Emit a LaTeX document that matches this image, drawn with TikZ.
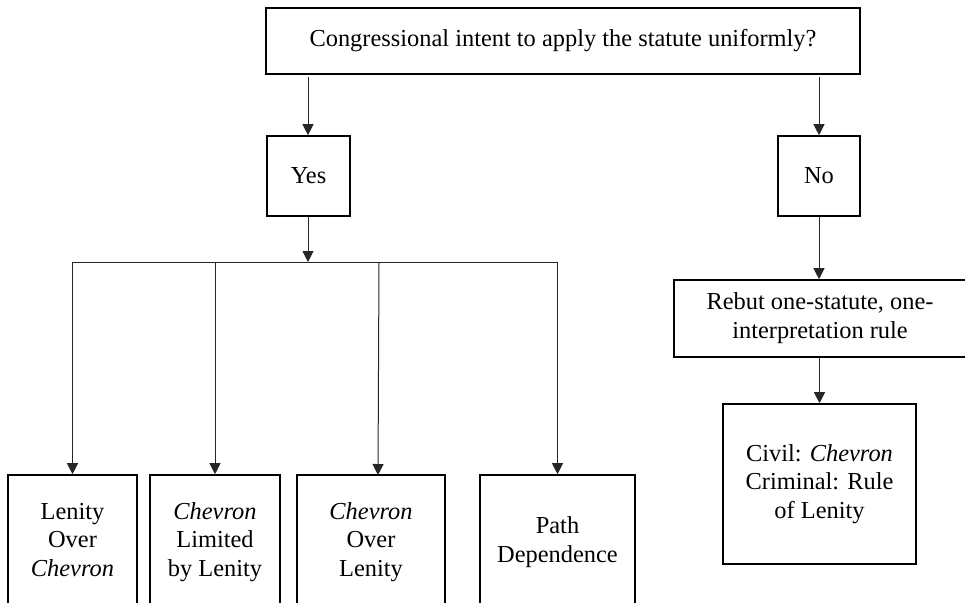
\documentclass[tikz,border=0pt]{standalone}
\usepackage{fontspec}
\setmainfont{Liberation Serif}
\usetikzlibrary{arrows.meta}
\newcommand\mylines[2]{\raisebox{#1}{\begin{tabular}{@{}c@{}}#2\end{tabular}}}
\tikzset{
  box/.style={draw=black, line width=1.6pt, rectangle, align=center, inner sep=0pt,
    font=\fontsize{24.4}{28.6}\selectfont},
  conn/.style={draw=black!85, line width=1pt},
  arr/.style={conn, -{Triangle[length=11pt,width=11pt]}}
}
\begin{document}
\begin{tikzpicture}[x=1pt,y=-1pt]
\useasboundingbox (0,0) rectangle (965,602);
% boxes
\node[box, minimum width=594pt, minimum height=66pt] (top) at (563,41) {\raisebox{-1pt}{Congressional intent to apply the statute uniformly?}};
\node[box, minimum width=83pt, minimum height=80pt] (yes) at (308.5,176) {\raisebox{-4pt}{Yes}};
\node[box, minimum width=82pt, minimum height=80pt] (no) at (819,176) {\raisebox{-2pt}{No}};
\node[box, minimum width=292pt, minimum height=77pt] (rebut) at (820,318.5) {\mylines{-6pt}{Rebut one-statute, one-\\interpretation rule}};
\node[box, minimum width=193pt, minimum height=160pt] (civil) at (819.5,484) {\mylines{-5pt}{Civil: \textit{Chevron}\\Criminal: Rule\\of Lenity}};
\node[box, minimum width=129pt, minimum height=134pt] (b1) at (72.5,542) {\mylines{-2pt}{Lenity\\Over\\\textit{Chevron}}};
\node[box, minimum width=130pt, minimum height=134pt] (b2) at (215,542) {\mylines{-2pt}{\textit{Chevron}\\Limited\\by Lenity}};
\node[box, minimum width=148pt, minimum height=134pt] (b3) at (371,542) {\mylines{-2pt}{\textit{Chevron}\\Over\\Lenity}};
\node[box, minimum width=155pt, minimum height=134pt] (b4) at (557.5,542) {\mylines{-2pt}{Path\\Dependence}};
% branch coordinates
\coordinate (s1) at (308,77);
\coordinate (s2) at (819,77);
\coordinate (hub) at (308,262);
\coordinate (h1) at (72.5,262);
\coordinate (h2) at (215,262);
\coordinate (h3) at (379,262);
\coordinate (h4) at (557.5,262);
\coordinate (t3) at (378,475);
% connectors
\draw[arr] (s1) -- (s1 |- yes.north);
\draw[arr] (s2) -- (s2 |- no.north);
\draw[arr] (yes.south -| hub) -- (hub);
\draw[conn] (h1) -- (h4);
\draw[arr] (h1) -- (b1.north);
\draw[arr] (h2) -- (b2.north);
\draw[arr] (h3) -- (t3);
\draw[arr] (h4) -- (b4.north);
\draw[arr] (no.south) -- (no.south |- rebut.north);
\draw[arr] (rebut.south -| civil.north) -- (civil.north);
\end{tikzpicture}
\end{document}
